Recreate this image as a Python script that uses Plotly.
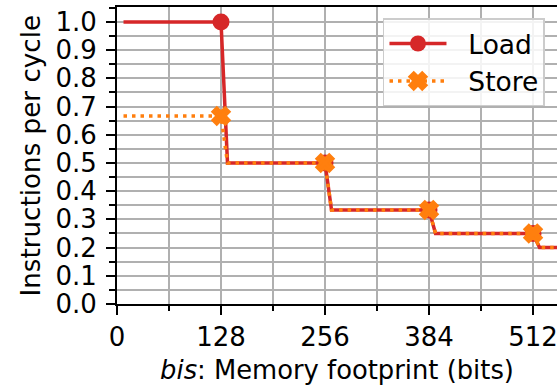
import plotly.graph_objects as go

# Data
load_x = [8, 128, 136, 256, 264, 384, 392, 512, 520, 544]
load_y = [1.0, 1.0, 0.5, 0.5, 1/3, 1/3, 0.25, 0.25, 0.2, 0.2]
store_x = [8, 128, 136, 256, 264, 384, 392, 512, 520, 544]
store_y = [2/3, 2/3, 0.5, 0.5, 1/3, 1/3, 0.25, 0.25, 0.2, 0.2]
marker_x = [128, 256, 384, 512]
load_marker_y = [1.0, 0.5, 1/3, 0.25]
store_marker_y = [2/3, 0.5, 1/3, 0.25]
x_ticks = [0, 128, 256, 384, 512]
y_ticks = [0.0, 0.1, 0.2, 0.3, 0.4, 0.5, 0.6, 0.7, 0.8, 0.9, 1.0]

RED = "#d62728"
ORANGE = "#ff7f0e"
FONT = "DejaVu Sans"

load_line = dict(color=RED, width=3.5)
load_marker = dict(color=RED, size=17, symbol="circle", line=dict(width=0))
store_line = dict(color=ORANGE, width=3.5, dash="3.5px,5px")
store_marker = dict(color=ORANGE, size=15, symbol="x", line=dict(color=ORANGE, width=2.5))

fig = go.Figure()
fig.add_trace(go.Scatter(x=load_x, y=load_y, mode="lines", line=load_line, showlegend=False))
fig.add_trace(go.Scatter(x=marker_x, y=load_marker_y, mode="markers", marker=load_marker, showlegend=False))
fig.add_trace(go.Scatter(x=store_x, y=store_y, mode="lines", line=store_line, showlegend=False))
fig.add_trace(go.Scatter(x=marker_x, y=store_marker_y, mode="markers", marker=store_marker, showlegend=False))
# legend entries
fig.add_trace(go.Scatter(x=[None], y=[None], mode="lines+markers", name="\u00a0\u00a0Load",
                         line=load_line, marker=load_marker))
fig.add_trace(go.Scatter(x=[None], y=[None], mode="lines+markers", name="\u00a0\u00a0Store",
                         line=store_line, marker=store_marker))

GRID = "#b0b0b0"
fig.update_layout(
    width=557, height=385,
    margin=dict(l=117, r=0, t=7, b=81),
    plot_bgcolor="white", paper_bgcolor="white",
    font=dict(family=FONT, size=26, color="black"),
    legend=dict(x=0.6045, y=0.962, xanchor="left", yanchor="top",
                bgcolor="rgba(255,255,255,0.85)", bordercolor="#cccccc", borderwidth=1.5,
                font=dict(size=26.5), itemwidth=57, tracegroupgap=0),
    xaxis=dict(range=[0, 541.5], tickvals=x_ticks, ticktext=[str(v) for v in x_ticks],
               ticklabeloverflow="allow",
               showline=True, linecolor="black", linewidth=2, mirror=True,
               ticks="outside", ticklen=9, tickwidth=2, tickcolor="black",
               showgrid=True, gridcolor=GRID, gridwidth=1.5,
               minor=dict(dtick=64, tick0=0, showgrid=True, gridcolor=GRID, gridwidth=1.5,
                          ticks="outside", ticklen=5, tickwidth=1.5, tickcolor="black"),
               zeroline=False,
               tickfont=dict(size=26),
               title=dict(text="<i>bis</i>: Memory footprint (bits)", font=dict(size=25.8), standoff=12)),
    yaxis=dict(range=[0, 1.053], tickvals=y_ticks, ticktext=[f"{v:.1f}" for v in y_ticks],
               ticklabelstandoff=4,
               showline=True, linecolor="black", linewidth=2,
               ticks="outside", ticklen=9, tickwidth=2, tickcolor="black",
               showgrid=True, gridcolor=GRID, gridwidth=1.5,
               minor=dict(dtick=0.05, tick0=0, showgrid=True, gridcolor=GRID, gridwidth=1.5,
                          ticks="outside", ticklen=6, tickwidth=1.5, tickcolor="black"),
               zeroline=False,
               tickfont=dict(size=26)),
    annotations=[dict(text="Instructions per cycle", textangle=-90, showarrow=False,
                      xref="paper", yref="paper", x=0, y=0.5, xanchor="center", yanchor="middle",
                      xshift=-87, font=dict(size=26.2))],
)

fig.write_html("out.html")
